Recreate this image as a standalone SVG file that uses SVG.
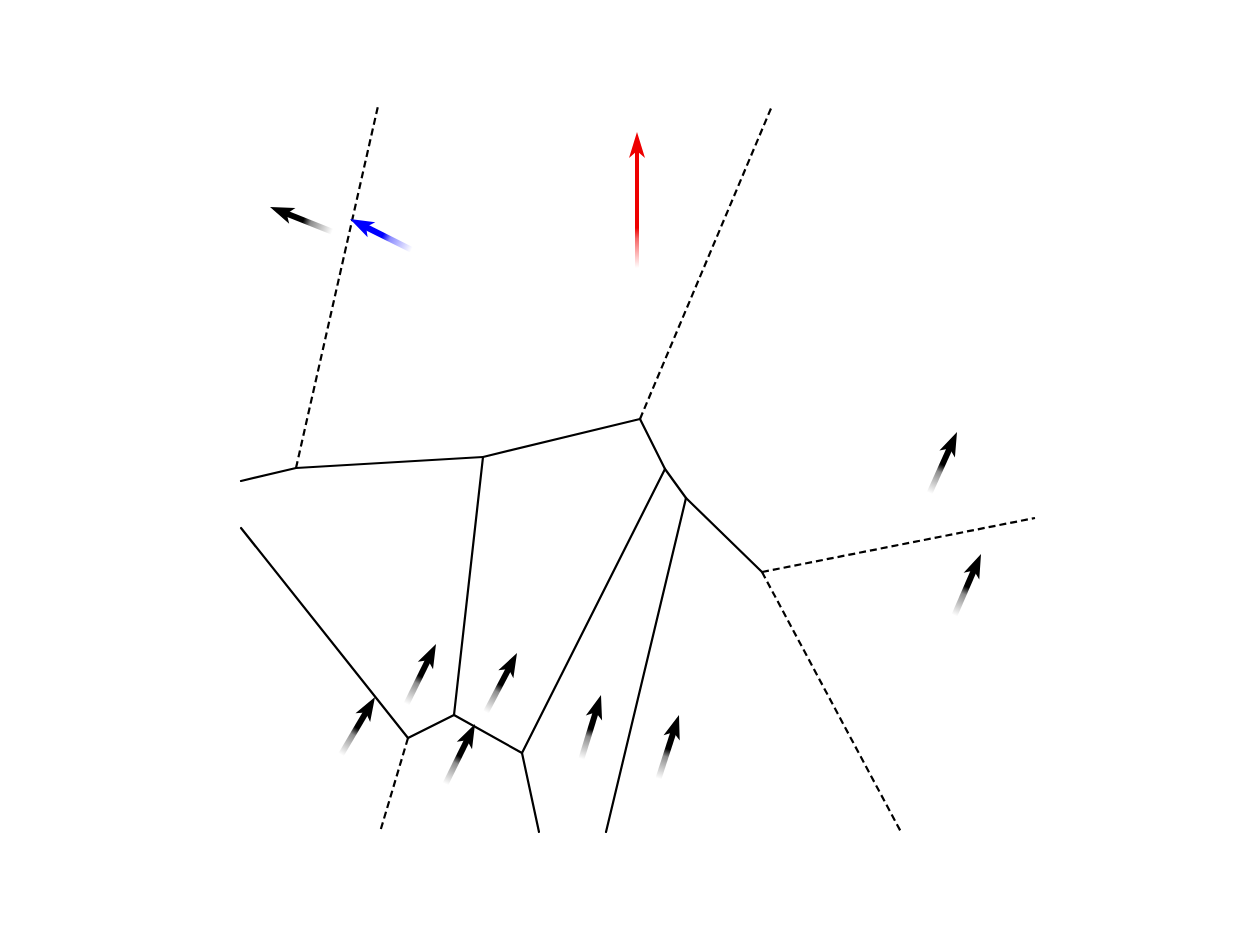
<svg xmlns="http://www.w3.org/2000/svg" xmlns:xlink="http://www.w3.org/1999/xlink" width="1245" height="931" viewBox="0 0 1245 931">
<style>
.edge{stroke:#000;stroke-width:2.2;fill:none;stroke-linecap:round}
.dash{stroke:#000;stroke-width:2.2;fill:none;stroke-dasharray:7 4}
</style>
<defs>
<linearGradient id="fadeK" x1="0" y1="0" x2="1" y2="0">
<stop offset="0" stop-color="#000" stop-opacity="0"/>
<stop offset="0.45" stop-color="#000" stop-opacity="0.45"/>
<stop offset="0.6" stop-color="#000" stop-opacity="1"/>
<stop offset="1" stop-color="#000" stop-opacity="1"/>
</linearGradient>
<linearGradient id="fadeB" x1="0" y1="0" x2="1" y2="0">
<stop offset="0" stop-color="#00f" stop-opacity="0"/>
<stop offset="0.45" stop-color="#00f" stop-opacity="0.45"/>
<stop offset="0.6" stop-color="#00f" stop-opacity="1"/>
<stop offset="1" stop-color="#00f" stop-opacity="1"/>
</linearGradient>
<linearGradient id="fadeR" x1="0" y1="1" x2="0" y2="0">
<stop offset="0" stop-color="#f00" stop-opacity="0"/>
<stop offset="0.25" stop-color="#e00" stop-opacity="0.6"/>
<stop offset="0.34" stop-color="#e00" stop-opacity="1"/>
<stop offset="1" stop-color="#e00" stop-opacity="1"/>
</linearGradient>
<g id="ak">
<rect x="-67" y="-3" width="52" height="6" fill="url(#fadeK)"/>
<polygon points="0,0 -24,-8.5 -18,0 -24,8.5" fill="#000"/>
</g>
<g id="ab">
<rect x="-69" y="-3" width="54" height="6" fill="url(#fadeB)"/>
<polygon points="0,0 -24,-8.5 -18,0 -24,8.5" fill="#00f"/>
</g>
</defs>
<rect width="1245" height="931" fill="#fff"/>
<g id="connectors">
<line class="edge" x1="241" y1="481" x2="296" y2="468"/>
<line class="edge" x1="296" y1="468" x2="483" y2="457"/>
<line class="edge" x1="483" y1="457" x2="640" y2="419"/>
<line class="edge" x1="640" y1="419" x2="665" y2="469"/>
<line class="edge" x1="665" y1="469" x2="686" y2="498"/>
<line class="edge" x1="686" y1="498" x2="762" y2="572"/>
<line class="edge" x1="483" y1="457" x2="454" y2="715"/>
<line class="edge" x1="241" y1="528" x2="408" y2="738"/>
<line class="edge" x1="408" y1="738" x2="454" y2="715"/>
<line class="edge" x1="454" y1="715" x2="522" y2="753"/>
<line class="edge" x1="522" y1="753" x2="665" y2="469"/>
<line class="edge" x1="522" y1="753" x2="539" y2="832"/>
<line class="edge" x1="686" y1="498" x2="606" y2="832"/>
<line class="dash" x1="296" y1="468" x2="378" y2="106"/>
<line class="dash" x1="640" y1="419" x2="772" y2="106"/>
<line class="dash" x1="762" y1="572" x2="1035" y2="518"/>
<line class="dash" x1="762" y1="572" x2="901" y2="832"/>
<line class="dash" x1="408" y1="738" x2="380" y2="832"/>
</g>
<g id="arrow-black-tl"><use xlink:href="#ak" href="#ak" transform="translate(270,207) rotate(-158.4)"/></g>
<g id="arrow-blue"><use xlink:href="#ab" href="#ab" transform="translate(350,219) rotate(-153.4)"/></g>
<g id="arrow-red">
<rect x="635" y="150" width="4" height="118" fill="url(#fadeR)"/>
<polygon points="637,132 629,158 637,151 645,158" fill="#e00"/>
</g>
<g id="arrow-1"><use xlink:href="#ak" href="#ak" transform="translate(436,644) rotate(-63.8)"/></g>
<g id="arrow-2"><use xlink:href="#ak" href="#ak" transform="translate(517,653) rotate(-62.3)"/></g>
<g id="arrow-3"><use xlink:href="#ak" href="#ak" transform="translate(375,697) rotate(-59.5)"/></g>
<g id="arrow-4"><use xlink:href="#ak" href="#ak" transform="translate(475,724) rotate(-63.8)"/></g>
<g id="arrow-5"><use xlink:href="#ak" href="#ak" transform="translate(601,695) rotate(-72.9)"/></g>
<g id="arrow-6"><use xlink:href="#ak" href="#ak" transform="translate(679,715) rotate(-72.1)"/></g>
<g id="arrow-7"><use xlink:href="#ak" href="#ak" transform="translate(957,432) rotate(-65.8)"/></g>
<g id="arrow-8"><use xlink:href="#ak" href="#ak" transform="translate(981,554) rotate(-66.6)"/></g>
</svg>
